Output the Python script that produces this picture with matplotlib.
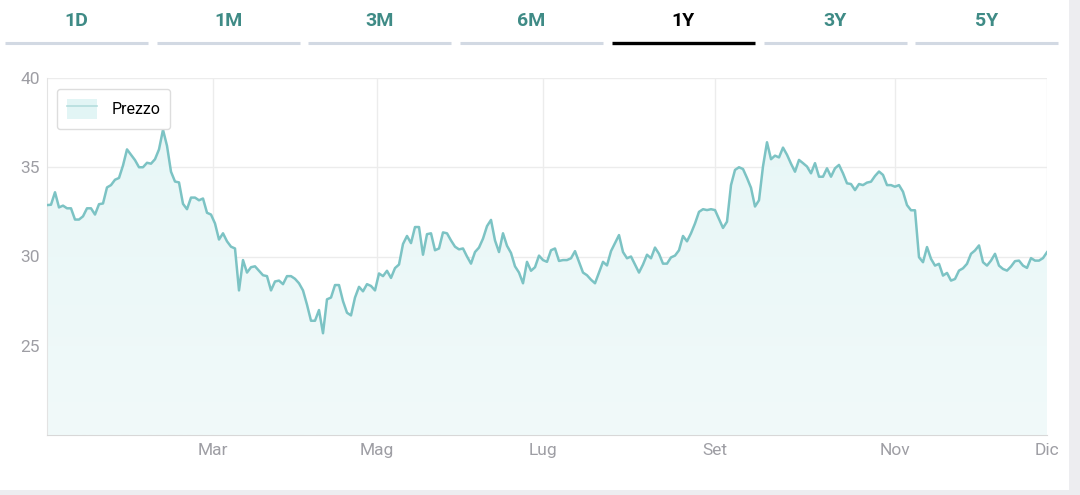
import numpy as np
import matplotlib.pyplot as plt
from matplotlib.patches import Rectangle, Patch
from matplotlib.lines import Line2D

# prices, one per trading day
prices = [
    32.88, 32.90, 33.60, 32.75, 32.85, 32.70, 32.70, 32.07, 32.07, 32.25,
    32.70, 32.70, 32.35, 32.93, 32.97, 33.87, 34.00, 34.30, 34.40, 35.10,
    36.00, 35.70, 35.40, 35.00, 35.00, 35.25, 35.20, 35.45, 36.00, 37.10,
    36.20, 34.75, 34.20, 34.15, 32.95, 32.65, 33.30, 33.30, 33.15, 33.25,
    32.45, 32.35, 31.85, 30.95, 31.30, 30.85, 30.55, 30.45, 28.10, 29.80,
    29.10, 29.40, 29.45, 29.20, 28.95, 28.90, 28.10, 28.60, 28.65, 28.45,
    28.90, 28.90, 28.75, 28.50, 28.10, 27.30, 26.40, 26.40, 27.00, 25.70,
    27.60, 27.70, 28.40, 28.40, 27.50, 26.85, 26.70, 27.70, 28.30, 28.05,
    28.45, 28.35, 28.10, 29.05, 28.90, 29.20, 28.80, 29.35, 29.55, 30.70,
    31.15, 30.75, 31.65, 31.65, 30.10, 31.25, 31.30, 30.35, 30.45, 31.35,
    31.30, 30.90, 30.55, 30.40, 30.45, 30.00, 29.60, 30.25, 30.50, 31.00,
    31.70, 32.05, 30.90, 30.25, 31.30, 30.60, 30.20, 29.45, 29.10, 28.50,
    29.70, 29.20, 29.40, 30.05, 29.80, 29.70, 30.35, 30.45, 29.75, 29.80,
    29.80, 29.90, 30.30, 29.70, 29.10, 28.95, 28.70, 28.50, 29.10, 29.70,
    29.50, 30.30, 30.75, 31.20, 30.25, 29.90, 30.00, 29.55, 29.10, 29.55,
    30.10, 29.90, 30.50, 30.15, 29.60, 29.60, 29.95, 30.05, 30.35, 31.15,
    30.85, 31.30, 31.85, 32.50, 32.65, 32.60, 32.65, 32.60, 32.10, 31.60,
    31.95, 34.00, 34.85, 35.00, 34.90, 34.40, 33.85, 32.80, 33.15, 35.05,
    36.40, 35.45, 35.65, 35.55, 36.10, 35.70, 35.20, 34.75, 35.41, 35.23,
    35.04, 34.66, 35.23, 34.47, 34.47, 34.94, 34.47, 34.94, 35.13, 34.66,
    34.10, 34.06, 33.72, 34.06, 34.00, 34.14, 34.19, 34.51, 34.76, 34.57,
    34.00, 34.00, 33.91, 34.00, 33.63, 32.88, 32.59, 32.59, 29.96, 29.68,
    30.53, 29.87, 29.49, 29.59, 28.93, 29.08, 28.65, 28.74, 29.21, 29.34,
    29.59, 30.15, 30.34, 30.62, 29.68, 29.49, 29.77, 30.15, 29.49, 29.30,
    29.21, 29.44, 29.74, 29.77, 29.49, 29.36, 29.91, 29.77, 29.77, 29.91,
    30.24,
]
month_labels = ['Mar', 'Mag', 'Lug', 'Set', 'Nov', 'Dic']
month_index = [41.5, 82.5, 124, 167, 212, 250]
y_ticks = [25, 30, 35, 40]
tabs = ['1D', '1M', '3M', '6M', '1Y', '3Y', '5Y']
active_tab = '1Y'

LINE = '#7cc3c4'
GRID = '#ececec'
LABEL = '#9e9ea4'
TEAL = '#3f8b86'


def main():
    plt.rcParams['font.family'] = ['Roboto', 'DejaVu Sans']
    fig = plt.figure(figsize=(10.8, 4.95), dpi=100)
    fig.patch.set_facecolor('white')

    # grey page border on the right and bottom
    fig.patches.append(Rectangle((1069 / 1080, 0), 11 / 1080, 1, transform=fig.transFigure,
                                 facecolor='#ededf0', edgecolor='none', zorder=0))
    fig.patches.append(Rectangle((0, 0), 1, 5 / 495, transform=fig.transFigure,
                                 facecolor='#ededf0', edgecolor='none', zorder=0))

    # period tabs
    step = 151.7
    for k, t in enumerate(tabs):
        x0 = 5 + k * step
        active = t == active_tab
        fig.text((x0 + 71.5) / 1080, 1 - 21 / 495, t, ha='center', va='center', fontsize=14,
                 fontweight='semibold', color='black' if active else TEAL)
        fig.add_artist(Line2D([x0 / 1080, (x0 + 143) / 1080], [1 - 43 / 495] * 2,
                              transform=fig.transFigure,
                              color='black' if active else '#d2d9e3',
                              lw=2.4 if active else 2.2, solid_capstyle='butt'))

    ax = fig.add_axes([47 / 1080, 60 / 495, 1000 / 1080, 357 / 495])
    x = np.arange(len(prices))
    area = ax.fill_between(x, prices, 20, color='none', lw=0)
    # soft vertical gradient under the line
    grad = np.linspace(0, 1, 256).reshape(-1, 1)
    cmap = plt.matplotlib.colors.LinearSegmentedColormap.from_list(
        'g', ['#f1fafa', '#e6f6f6'])
    img = ax.imshow(grad, aspect='auto', cmap=cmap, origin='lower',
                    extent=[0, len(prices) - 1, 20, 40], zorder=1)
    img.set_clip_path(area.get_paths()[0], transform=ax.transData)
    ax.plot(x, prices, color=LINE, lw=1.8, zorder=3)

    ax.set_xlim(0, len(prices) - 1)
    ax.set_ylim(20, 40)
    ax.set_yticks(y_ticks)
    ax.set_xticks(month_index)
    ax.set_xticklabels(month_labels)
    ax.tick_params(length=0, labelsize=12.5, labelcolor=LABEL)
    ax.tick_params(axis='x', pad=6)
    ax.tick_params(axis='y', pad=5)
    ax.grid(True, color=GRID, lw=1, zorder=0)
    ax.set_axisbelow(True)
    for s in ['top', 'right']:
        ax.spines[s].set_visible(False)
    ax.spines['left'].set_color('#e3e3e3')
    ax.spines['bottom'].set_color('#d8d8d8')

    handle = (Patch(facecolor='#e2f5f5', edgecolor='none'),
              Line2D([], [], color='#b5dede', lw=1.2))
    leg = ax.legend([handle], ['Prezzo'], loc='upper left', bbox_to_anchor=(0.01, 0.969),
                    borderaxespad=0, fontsize=11.5, frameon=True, fancybox=True,
                    framealpha=1, edgecolor='#dddddd', handlelength=1.9, handleheight=1.6,
                    borderpad=0.6, handletextpad=0.9)
    leg.get_frame().set_linewidth(1.0)

    fig.savefig('out.png', dpi=100)


if __name__ == '__main__':
    main()
